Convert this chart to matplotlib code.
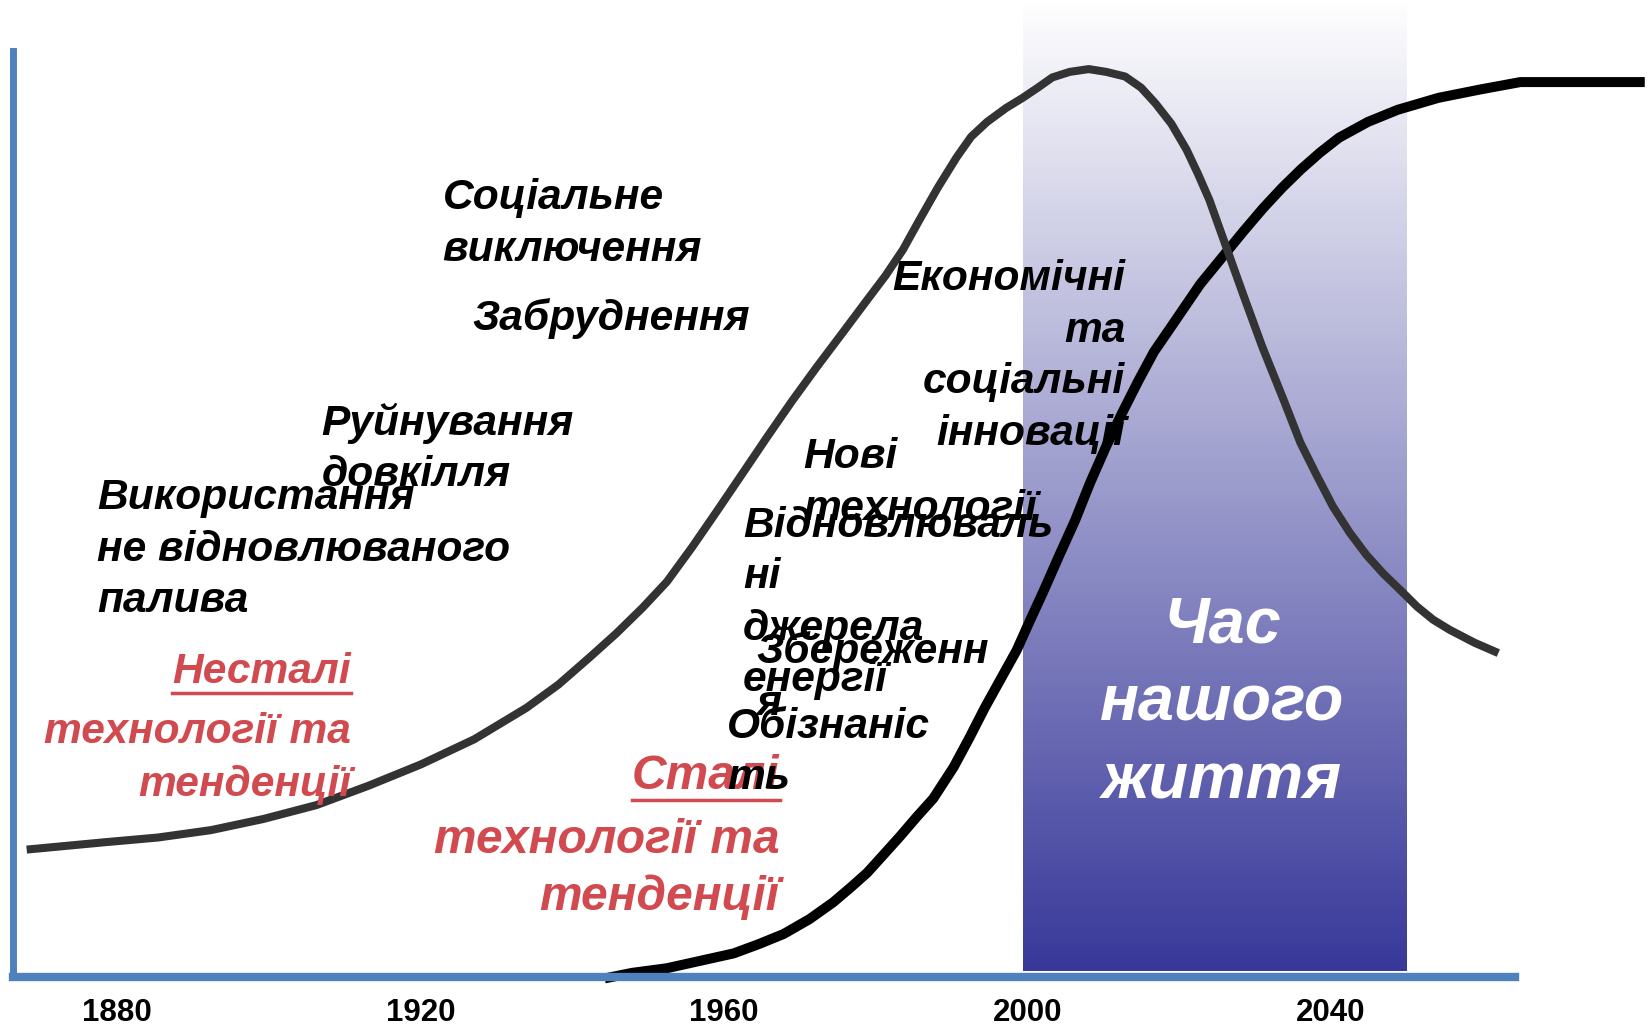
import numpy as np
import matplotlib.pyplot as plt
from matplotlib.colors import LinearSegmentedColormap
from matplotlib.lines import Line2D

plt.rcParams['font.family'] = ['Liberation Sans', 'DejaVu Sans']

# Вісь часу
tick_years = [1880, 1920, 1960, 2000, 2040]
our_time = (1999.5, 2050)

# Несталий розвиток (сіра крива)
grey_years = [1868.1, 1878.5, 1885.4, 1892.4, 1899.3, 1906.3, 1913.2, 1920.1, 1927.1,
              1934.0, 1938.2, 1942.4, 1945.8, 1949.3, 1952.5, 1955.8, 1959.0, 1962.4,
              1965.7, 1969.0, 1972.2, 1975.7, 1978.9, 1981.3, 1983.6, 1985.7, 1988.2,
              1990.7, 1992.6, 1994.7, 1997.2, 1999.4, 2001.4, 2003.3, 2005.6, 2008.1,
              2010.4, 2012.9, 2015.0, 2016.9, 2019.0, 2021.0, 2022.5, 2024.0, 2026.1,
              2028.5, 2031.0, 2033.8, 2036.0, 2038.2, 2040.3, 2042.5, 2044.7, 2046.9,
              2049.3, 2051.4, 2053.5, 2055.7, 2059.0, 2062.1]
grey_vals = [13.8, 14.6, 15.1, 15.9, 17.1, 18.6, 20.7, 23.0, 25.7,
             29.1, 31.6, 34.6, 37.1, 39.9, 42.7, 46.4, 50.2, 54.3,
             58.3, 62.2, 65.8, 69.6, 73.1, 75.7, 78.5, 81.6, 85.2,
             88.5, 90.7, 92.3, 93.8, 94.9, 96.0, 97.1, 97.7, 98.0,
             97.7, 97.2, 96.0, 94.3, 92.1, 89.3, 86.7, 83.9, 79.1,
             73.6, 68.0, 62.3, 57.7, 54.1, 50.8, 48.0, 45.6, 43.6,
             41.7, 40.0, 38.6, 37.5, 36.1, 35.0]

# Сталий розвиток (чорна крива)
black_years = [1944.3, 1947.9, 1952.5, 1956.9, 1961.3, 1964.6, 1967.9, 1971.3, 1974.4,
               1976.7, 1978.9, 1981.0, 1983.2, 1985.4, 1987.6, 1990.3, 1992.4, 1994.4,
               1996.5, 1998.6, 2000.3, 2002.1, 2004.2, 2006.3, 2008.3, 2010.4, 2012.5,
               2014.6, 2016.7, 2018.8, 2022.8, 2026.0, 2028.5, 2031.1, 2033.6, 2036.1,
               2038.6, 2041.1, 2044.9, 2048.8, 2054.2, 2059.7, 2065.0, 2081.4]
black_vals = [-0.1, 0.5, 1.0, 1.8, 2.6, 3.6, 4.7, 6.3, 8.1,
              9.7, 11.3, 13.2, 15.2, 17.3, 19.3, 22.7, 25.9, 29.1,
              32.2, 35.3, 38.4, 41.6, 45.5, 49.3, 53.4, 57.3, 60.9,
              64.3, 67.5, 70.0, 74.8, 78.0, 80.5, 83.0, 85.2, 87.2,
              89.0, 90.6, 92.3, 93.6, 94.9, 95.8, 96.6, 96.6]

black_labels = [
    (['Соціальне', 'виключення'], 420, 188, 'left'),
    (['Забруднення'], 448, 302, 'left'),
    (['Руйнування', 'довкілля'], 305, 402, 'left'),
    (['Використання', 'не відновлюваного', 'палива'], 92, 473, 'left'),
    (['Економічні', 'та', 'соціальні', 'інновації'], 1068, 265, 'right'),
    (['Нові', 'технології'], 762, 434, 'left'),
    (['Відновлюваль', 'ні', 'джерела', 'енергії'], 705, 499, 'left'),
    (['Збереженн', 'я'], 718, 619, 'left'),
    (['Обізнаніс', 'ть'], 690, 690, 'left'),
]
red_labels = [
    (['Несталі', 'технології та', 'тенденції'], 333, [638, 695, 745], 30.6),
    (['Сталі', 'технології та', 'тенденції'], 740, [737, 798, 852], 34.5),
]
life_label = ['Час', 'нашого', 'життя']

W, H = 1568, 975  # координати розмітки

fig = plt.figure(figsize=(16.52, 10.27), dpi=100)
ax = fig.add_axes([12 / W, 1 - 928 / H, (1438 - 12) / W, (928 - 48) / H])

blue = '#4F81BD'
for side in ['top', 'right']:
    ax.spines[side].set_visible(False)
ax.spines['left'].set_color(blue)
ax.spines['left'].set_linewidth(5)
ax.spines['bottom'].set_color(blue)
ax.spines['bottom'].set_linewidth(6)

# градієнтна смуга "час нашого життя"
cmap = LinearSegmentedColormap.from_list('band', ['#FFFFFF', '#38389A'])
grad = np.linspace(0, 1, 256).reshape(-1, 1)
ax.imshow(grad, cmap=cmap, extent=[our_time[0], our_time[1], 0.7, 105.5],
          aspect='auto', origin='upper', clip_on=False, zorder=0)

ax.plot(black_years, black_vals, color='black', lw=7.2, solid_capstyle='butt',
        solid_joinstyle='round', clip_on=False, zorder=2)
ax.plot(grey_years, grey_vals, color='#333333', lw=5.8, solid_capstyle='butt',
        solid_joinstyle='round', clip_on=False, zorder=3)

ax.set_xlim(1866.25, 2064.3)
ax.set_ylim(0, 100)
ax.set_yticks([])
ax.set_xticks(tick_years)
ax.set_xticklabels([str(y) for y in tick_years], fontsize=22.5, fontweight='bold')
ax.tick_params(axis='x', length=0, pad=15)


def px(x, y):
    return x / W, 1 - y / H


fs = 30.6
step = 49
for lines, x, y0, ha in black_labels:
    for i, s in enumerate(lines):
        fig.text(*px(x, y0 + i * step), s, ha=ha, va='center', fontsize=fs,
                 fontweight='bold', fontstyle='italic', color='black', zorder=5)

red = '#D04A4F'
under = []
for lines, x, ys, size in red_labels:
    for i, s in enumerate(lines):
        t = fig.text(*px(x, ys[i]), s, ha='right', va='center', fontsize=size,
                     fontweight='bold', fontstyle='italic', color=red, zorder=4)
        if i == 0:
            under.append(t)

for i, s in enumerate(life_label):
    fig.text(*px(1160, 594 + i * 74), s, ha='center', va='center', fontsize=46.5,
             fontweight='bold', fontstyle='italic', color='white', zorder=5)

# підкреслення заголовків
fig.canvas.draw()
r = fig.canvas.get_renderer()
fw, fh = fig.bbox.width, fig.bbox.height
for t in under:
    bb = t.get_window_extent(r)
    yb = (bb.y0 - 1) / fh
    fig.add_artist(Line2D([bb.x0 / fw, bb.x1 / fw], [yb, yb], color=red, lw=2.5))

fig.savefig('out.png', dpi=100)
